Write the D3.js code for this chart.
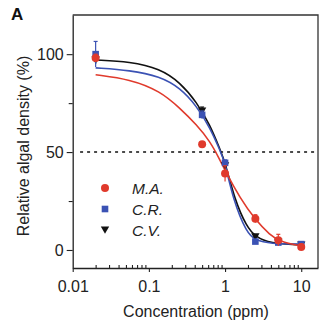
<!DOCTYPE html>
<html>
<head>
<meta charset="utf-8">
<script src="https://cdn.jsdelivr.net/npm/d3@7"></script>
<style>
  body { margin: 0; background: #fff; }
  svg { font-family: "Liberation Sans", Arial, sans-serif; }
</style>
</head>
<body>
<svg id="drawing_region"></svg>
<script>
// concentrations tested (ppm)
const conc = [0.02, 0.5, 1, 2.5, 5, 10];

// measured relative algal density (%)
const maVals = [98, 54, 39, 16, 5, 1.5];
const crVals = [100, 69, 44.5, 4.3, 3.8, 3];
const cvVals = [97, 71, 43, 6.8, 4, 2.5];

// error bar half-widths
const maErr = [2, 1, 4, 2, 3, 1.5];
const crErr = [6.5, 2, 1.5, 1, 1, 1];
const cvErr = [2, 2, 1.5, 1, 1, 1];

// fitted curves at sample concentrations
const maFitX = [0.02, 0.0565, 0.14, 0.256, 0.424, 0.634, 0.857, 1.0, 1.57, 2.5, 3.88, 5.25, 10];
const maFitY = [89.5, 87.2, 81.2, 72.4, 63.9, 55.5, 46, 40.5, 26.5, 15.3, 7.7, 4.3, 2];
const crFitX = [0.02, 0.0565, 0.14, 0.256, 0.424, 0.634, 0.857, 1.0, 1.28, 1.92, 2.5, 3.88, 10];
const crFitY = [93, 91.8, 88.6, 82.8, 73.5, 62.5, 51, 44.6, 25.5, 8.7, 5, 3.2, 3];
const cvFitX = [0.02, 0.0565, 0.14, 0.256, 0.424, 0.634, 0.857, 1.0, 1.34, 1.92, 2.5, 3.88, 10];
const cvFitY = [97, 96.2, 92.6, 85.6, 75.5, 63.9, 51.5, 45, 25.5, 11.9, 6.8, 3.4, 2.6];

const xTicks = [0.01, 0.1, 1, 10];
const xTickLabels = ["0.01", "0.1", "1", "10"];
const yTicks = [0, 50, 100];
const yMinor = [25, 75];

const series = [
  { name: "C.V.", vals: cvVals, err: cvErr, fx: cvFitX, fy: cvFitY, color: "#111111", shape: "tri" },
  { name: "C.R.", vals: crVals, err: crErr, fx: crFitX, fy: crFitY, color: "#3b52b4", shape: "sq" },
  { name: "M.A.", vals: maVals, err: maErr, fx: maFitX, fy: maFitY, color: "#e03a2c", shape: "circ" }
];
const legendOrder = ["M.A.", "C.R.", "C.V."];

const config = {
  width: 325, height: 323,
  left: 72.7, right: 318, top: 15, bottom: 268
};

const svg = d3.select("#drawing_region")
  .attr("width", config.width)
  .attr("height", config.height);

const xscale = d3.scaleLog()
  .domain([0.01, 16.6])
  .range([config.left, config.right]);

const yscale = d3.scaleLinear()
  .domain([-9.2, 120])
  .range([config.bottom, config.top]);

// frame (top and right)
svg.append("path")
  .attr("d", `M${config.left},${config.top}H${config.right}V${config.bottom}`)
  .attr("fill", "none")
  .attr("stroke", "#333")
  .attr("stroke-width", 1.3);

// x axis
const minorX = [];
[0.01, 0.1, 1, 10].forEach(d => {
  for (let k = 2; k <= 9; k++) if (d * k < 16.6) minorX.push(d * k);
});

const xaxis = d3.axisBottom(xscale)
  .tickValues(xTicks)
  .tickFormat((d, i) => xTickLabels[i])
  .tickSizeInner(4)
  .tickSizeOuter(0)
  .tickPadding(8.5);

const xg = svg.append("g")
  .attr("transform", `translate(0, ${config.bottom})`)
  .call(xaxis);

svg.append("g")
  .attr("transform", `translate(0, ${config.bottom})`)
  .call(d3.axisBottom(xscale).tickValues(minorX).tickSizeInner(-3).tickSizeOuter(0).tickFormat(""))
  .call(g => g.select(".domain").remove());

xg.selectAll("text").attr("font-size", 16).attr("fill", "#222");

// y axis
const yaxis = d3.axisLeft(yscale)
  .tickValues(yTicks)
  .tickSizeInner(6)
  .tickSizeOuter(0)
  .tickPadding(3);

const yg = svg.append("g")
  .attr("transform", `translate(${config.left}, 0)`)
  .call(yaxis);

svg.append("g")
  .attr("transform", `translate(${config.left}, 0)`)
  .call(d3.axisLeft(yscale).tickValues(yMinor).tickSizeInner(4).tickSizeOuter(0).tickFormat(""))
  .call(g => g.select(".domain").remove());

yg.selectAll("text").attr("font-size", 16).attr("fill", "#222");

svg.selectAll(".domain").attr("stroke", "#222").attr("stroke-width", 1.3);
svg.selectAll(".tick line").attr("stroke", "#222").attr("stroke-width", 1.1);

// 50% reference line
svg.append("line")
  .attr("x1", xscale(0.0125))
  .attr("x2", config.right - 3)
  .attr("y1", yscale(50))
  .attr("y2", yscale(50))
  .attr("stroke", "#111")
  .attr("stroke-width", 1.4)
  .attr("stroke-dasharray", "3,4");

// fitted curves
const line = d3.line()
  .x(d => xscale(d[0]))
  .y(d => yscale(d[1]))
  .curve(d3.curveBasis);

series.forEach(s => {
  svg.append("path")
    .datum(s.fx.map((c, i) => [c, s.fy[i]]))
    .attr("d", line)
    .attr("fill", "none")
    .attr("stroke", s.color)
    .attr("stroke-width", 1.6);
});

// markers
function drawMarker(g, shape, color, x, y) {
  if (shape == "circ") {
    g.append("circle").attr("cx", x).attr("cy", y).attr("r", 4).attr("fill", color);
  } else if (shape == "sq") {
    g.append("rect").attr("x", x - 3.3).attr("y", y - 3.3).attr("width", 6.6).attr("height", 6.6).attr("fill", color);
  } else {
    g.append("path")
      .attr("d", `M${x - 4.2},${y - 3.5}L${x + 4.2},${y - 3.5}L${x},${y + 3.8}Z`)
      .attr("fill", color);
  }
}

series.forEach(s => {
  const g = svg.append("g");
  conc.forEach((c, i) => {
    const x = xscale(c);
    g.append("line")
      .attr("x1", x).attr("x2", x)
      .attr("y1", yscale(s.vals[i] - s.err[i]))
      .attr("y2", yscale(s.vals[i] + s.err[i]))
      .attr("stroke", s.color)
      .attr("stroke-width", 1.2);
    g.append("line")
      .attr("x1", x - 2).attr("x2", x + 2)
      .attr("y1", yscale(s.vals[i] + s.err[i]))
      .attr("y2", yscale(s.vals[i] + s.err[i]))
      .attr("stroke", s.color)
      .attr("stroke-width", 1.2);
    drawMarker(g, s.shape, s.color, x, yscale(s.vals[i]));
  });
});

// legend
const legend = svg.append("g");
legendOrder.forEach((name, i) => {
  const s = series.find(d => d.name == name);
  const cy = 188 + i * 21;
  drawMarker(legend, s.shape, s.color, 105, cy);
  legend.append("text")
    .attr("x", 132)
    .attr("y", cy + 6)
    .attr("font-size", 15.5)
    .attr("font-style", "italic")
    .attr("fill", "#222")
    .text(name);
});

// axis titles
svg.append("text")
  .attr("x", 196)
  .attr("y", 317)
  .attr("text-anchor", "middle")
  .attr("font-size", 16)
  .attr("fill", "#222")
  .text("Concentration (ppm)");

svg.append("text")
  .attr("transform", "translate(28.5, 146) rotate(-90)")
  .attr("text-anchor", "middle")
  .attr("font-size", 16)
  .attr("fill", "#222")
  .text("Relative algal density (%)");

// panel letter
svg.append("text")
  .attr("x", 11)
  .attr("y", 20)
  .attr("font-size", 17)
  .attr("font-weight", "bold")
  .attr("fill", "#111")
  .text("A");
</script>
</body>
</html>
